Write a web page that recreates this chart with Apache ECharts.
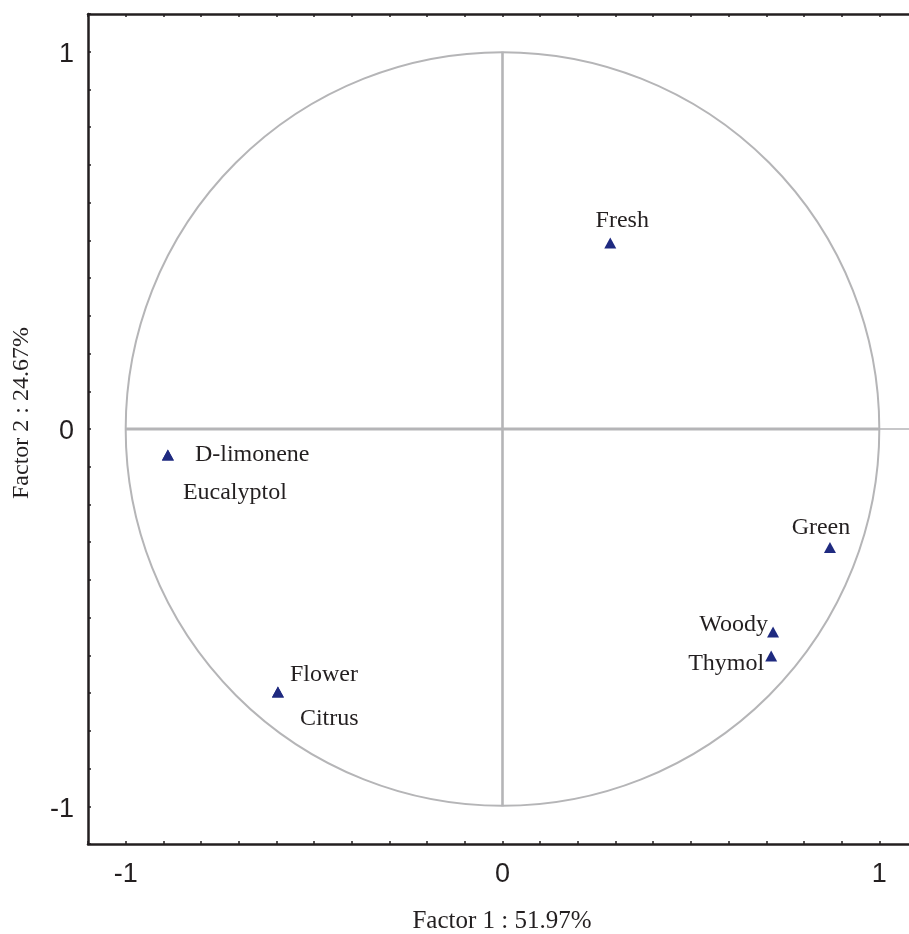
<!DOCTYPE html>
<html>
<head>
<meta charset="utf-8">
<script src="https://cdn.jsdelivr.net/npm/echarts@6/dist/echarts.min.js"></script>
<style>
html,body{margin:0;padding:0;background:#fff;overflow:hidden;}
#chart{width:917px;height:934px;}
</style>
</head>
<body>
<div id="chart"></div>
<script>
// ---- data ----
const variables = ['Fresh', 'D-limonene', 'Eucalyptol', 'Green', 'Woody', 'Thymol', 'Flower', 'Citrus'];
const factor1 = [0.286, -0.888, -0.888, 0.869, 0.718, 0.713, -0.596, -0.596];
const factor2 = [0.493, -0.069, -0.069, -0.314, -0.538, -0.602, -0.697, -0.697];
const xTickLabels = [-1, 0, 1];
const yTickLabels = [-1, 0, 1];
const xAxisName = 'Factor 1 : 51.97%';
const yAxisName = 'Factor 2 : 24.67%';
const circleCenter = [[0, 0]];
const horizontalInner = [[-1, 0], [1, 0]];
const horizontalOuter = [[1, 0], [1.1, 0]];
const verticalLine = [[0, -1], [0, 1]];

// ---- label placement (style, not data) ----
const labelPlace = {
  'Fresh':      {align: 'center', offset: [12, -22]},
  'D-limonene': {align: 'left',   offset: [27, 0]},
  'Eucalyptol': {align: 'left',   offset: [15, 38]},
  'Green':      {align: 'center', offset: [-9, -20]},
  'Woody':      {align: 'right',  offset: [-5, -7]},
  'Thymol':     {align: 'right',  offset: [-7, 8]},
  'Flower':     {align: 'left',   offset: [12, -17]},
  'Citrus':     {align: 'left',   offset: [22, 27]}
};

const minorTicks = [];
for (let k = -11; k <= 11; k++) minorTicks.push(Math.round(k) / 10);

const axisColor = '#231f20';
const grayLine = '#b5b5b7';
const markerColor = '#1f2a80';

const points = variables.map((name, i) => ({
  name: name,
  value: [factor1[i], factor2[i]],
  label: {
    show: true,
    position: 'inside',
    align: labelPlace[name].align,
    verticalAlign: 'middle',
    offset: labelPlace[name].offset,
    formatter: name,
    color: axisColor,
    fontFamily: 'Liberation Serif',
    fontSize: 24,
    textBorderWidth: 0
  }
}));

const tickFmt = v => String(Math.round(v));
const yTickFmt = v => '{t|' + Math.round(v) + '}';

const chart = echarts.init(document.getElementById('chart'), null, {renderer: 'canvas'});
chart.setOption({
  animation: false,
  backgroundColor: '#ffffff',
  grid: {left: 88, top: 14, width: 829, height: 830, containLabel: false},
  xAxis: [{
    type: 'value', min: -1.1, max: 1.1, position: 'bottom',
    axisLine: {show: true, onZero: false, lineStyle: {color: axisColor, width: 2.5}},
    axisTick: {show: true, inside: true, length: 3, customValues: minorTicks, lineStyle: {color: axisColor, width: 1.5}},
    axisLabel: {show: true, customValues: xTickLabels, formatter: tickFmt, color: axisColor, fontFamily: 'Liberation Sans', fontSize: 27, margin: 17},
    splitLine: {show: false}
  }, {
    type: 'value', min: -1.1, max: 1.1, position: 'top',
    axisLine: {show: true, onZero: false, lineStyle: {color: axisColor, width: 2.5}},
    axisTick: {show: true, inside: true, length: 3, customValues: minorTicks, lineStyle: {color: axisColor, width: 1.5}},
    axisLabel: {show: false},
    splitLine: {show: false}
  }],
  yAxis: [{
    type: 'value', min: -1.1, max: 1.1, position: 'left',
    axisLine: {show: true, onZero: false, lineStyle: {color: axisColor, width: 2.5}},
    axisTick: {show: true, inside: true, length: 3, customValues: minorTicks, lineStyle: {color: axisColor, width: 1.5}},
    axisLabel: {
      show: true, customValues: yTickLabels, formatter: yTickFmt, color: axisColor,
      fontFamily: 'Liberation Sans', fontSize: 27, margin: 14,
      rich: {t: {fontFamily: 'Liberation Sans', fontSize: 27, color: axisColor, padding: [6, 0, 0, 0]}}
    },
    splitLine: {show: false}
  }],
  graphic: [{
    type: 'text', x: 502, y: 921,
    style: {text: xAxisName, fill: axisColor, font: '25px "Liberation Serif"', textAlign: 'center', textVerticalAlign: 'middle'}
  }, {
    type: 'text', x: 22, y: 413, rotation: Math.PI / 2,
    style: {text: yAxisName, fill: axisColor, font: '24px "Liberation Serif"', textAlign: 'center', textVerticalAlign: 'middle'}
  }],
  series: [{
    type: 'custom',
    coordinateSystem: 'cartesian2d',
    silent: true,
    z: 1,
    data: circleCenter,
    renderItem: function (params, api) {
      const c = api.coord([api.value(0), api.value(1)]);
      const s = api.size([1, 1]);
      return {type: 'circle', shape: {cx: c[0], cy: c[1], r: s[0]}, style: {fill: 'none', stroke: grayLine, lineWidth: 2}};
    }
  }, {
    type: 'line', data: horizontalInner, symbol: 'none', silent: true, z: 1,
    lineStyle: {color: grayLine, width: 3}
  }, {
    type: 'line', data: horizontalOuter, symbol: 'none', silent: true, z: 1,
    lineStyle: {color: grayLine, width: 1.6}
  }, {
    type: 'line', data: verticalLine, symbol: 'none', silent: true, z: 1,
    lineStyle: {color: grayLine, width: 2.6}
  }, {
    type: 'scatter',
    z: 3,
    symbol: 'triangle',
    symbolSize: [12, 11],
    itemStyle: {color: markerColor, opacity: 1},
    data: points
  }]
});
</script>
</body>
</html>
